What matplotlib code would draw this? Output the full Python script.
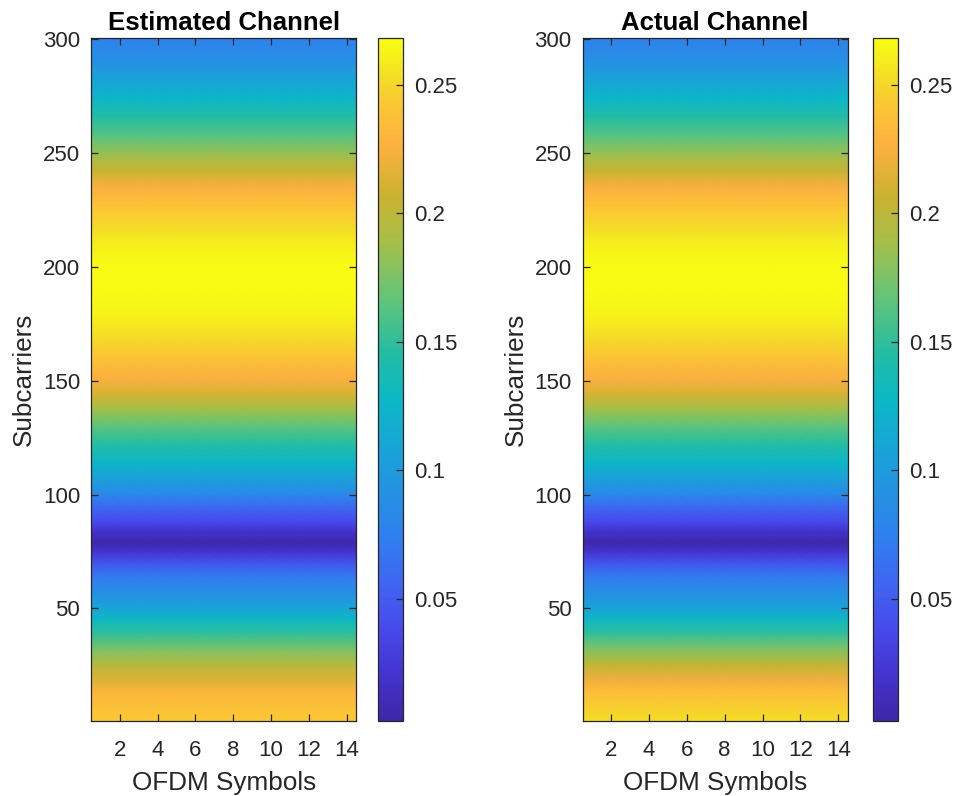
import numpy as np
import matplotlib
matplotlib.use("Agg")
import matplotlib.pyplot as plt
from matplotlib.colors import LinearSegmentedColormap

plt.rcParams['font.family'] = ['Liberation Sans', 'DejaVu Sans']

# channel magnitude (same for all 14 OFDM symbols)
subcarriers = [0.5, 5, 13, 18, 25, 32, 39, 45, 51, 57, 64, 70, 75, 79, 84, 88, 95,
               100, 107, 114, 122, 130, 138, 144, 151, 160, 169, 179, 190, 200,
               210, 219, 227, 235, 242, 248, 257, 266, 274, 288, 300.5]
estimated = [0.243, 0.240, 0.230, 0.215, 0.198, 0.175, 0.150, 0.130, 0.105, 0.090,
             0.070, 0.045, 0.020, 0.004, 0.020, 0.037, 0.060, 0.082, 0.105, 0.125,
             0.145, 0.165, 0.190, 0.210, 0.225, 0.240, 0.252, 0.262, 0.268, 0.268,
             0.260, 0.250, 0.240, 0.225, 0.205, 0.190, 0.165, 0.145, 0.125, 0.095, 0.075]
actual = [0.253, 0.248, 0.236, 0.222, 0.203, 0.177, 0.150, 0.130, 0.105, 0.090,
          0.070, 0.045, 0.020, 0.004, 0.020, 0.037, 0.060, 0.082, 0.105, 0.125,
          0.145, 0.165, 0.190, 0.210, 0.225, 0.240, 0.252, 0.262, 0.268, 0.268,
          0.260, 0.250, 0.240, 0.225, 0.205, 0.190, 0.165, 0.145, 0.125, 0.095, 0.075]
n_symbols = 14
clim = (0.0026, 0.268)

# parula-like colormap
parula = LinearSegmentedColormap.from_list("parula", [
    (0.00, "#3e26a8"), (0.07, "#4435d0"), (0.13, "#4748ea"), (0.20, "#4065f2"),
    (0.27, "#2f80ee"), (0.35, "#2296e0"), (0.42, "#14aad2"), (0.47, "#0bb8c6"),
    (0.54, "#24bca4"), (0.62, "#62c478"), (0.70, "#a4bf4a"), (0.77, "#cab230"),
    (0.84, "#fbb040"), (0.90, "#fcc535"), (0.94, "#f4da28"), (0.97, "#f5ee1c"),
    (1.00, "#f9fb14")])

fig = plt.figure(figsize=(9.56, 7.96), dpi=100)
dark = "#262626"

panels = [("Estimated Channel", estimated, 0.0955, 0.3954),
          ("Actual Channel", actual, 0.6095, 0.9132)]

sym_edges = np.arange(0.5, n_symbols + 1, 1.0)
for title, prof, ax_x, cb_x in panels:
    ax = fig.add_axes([ax_x, 0.0942, 0.2772, 0.8577])
    X, Y = np.meshgrid(sym_edges, subcarriers)
    C = np.repeat(np.array(prof)[:, None], len(sym_edges), axis=1)
    m = ax.pcolormesh(X, Y, C, shading='gouraud', cmap=parula,
                      vmin=clim[0], vmax=clim[1], rasterized=True)
    ax.set_xlim(0.5, n_symbols + 0.5)
    ax.set_ylim(0.5, 300.5)
    ax.set_xticks(range(2, 15, 2))
    ax.set_yticks(range(50, 301, 50))
    ax.tick_params(direction='in', top=True, right=True, length=5, width=0.9,
                   colors=dark, labelsize=16, pad=8)
    ax.tick_params(axis='x', pad=14)
    for s in ax.spines.values():
        s.set_color(dark)
        s.set_linewidth(0.9)
    ax.set_title(title, fontsize=18.5, fontweight='bold', color='black', pad=6)
    ax.set_xlabel("OFDM Symbols", fontsize=18.8, color=dark, labelpad=7)
    ax.set_ylabel("Subcarriers", fontsize=18.8, color=dark, labelpad=5)

    cax = fig.add_axes([cb_x, 0.0942, 0.0262, 0.8577])
    cb = fig.colorbar(m, cax=cax)
    cb.set_ticks([0.05, 0.1, 0.15, 0.2, 0.25])
    cb.set_ticklabels(["0.05", "0.1", "0.15", "0.2", "0.25"])
    cax.tick_params(direction='in', length=5, width=0.9, colors=dark,
                    labelsize=16, pad=8)
    cb.outline.set_edgecolor(dark)
    cb.outline.set_linewidth(0.9)

fig.savefig("out.png", dpi=100)
